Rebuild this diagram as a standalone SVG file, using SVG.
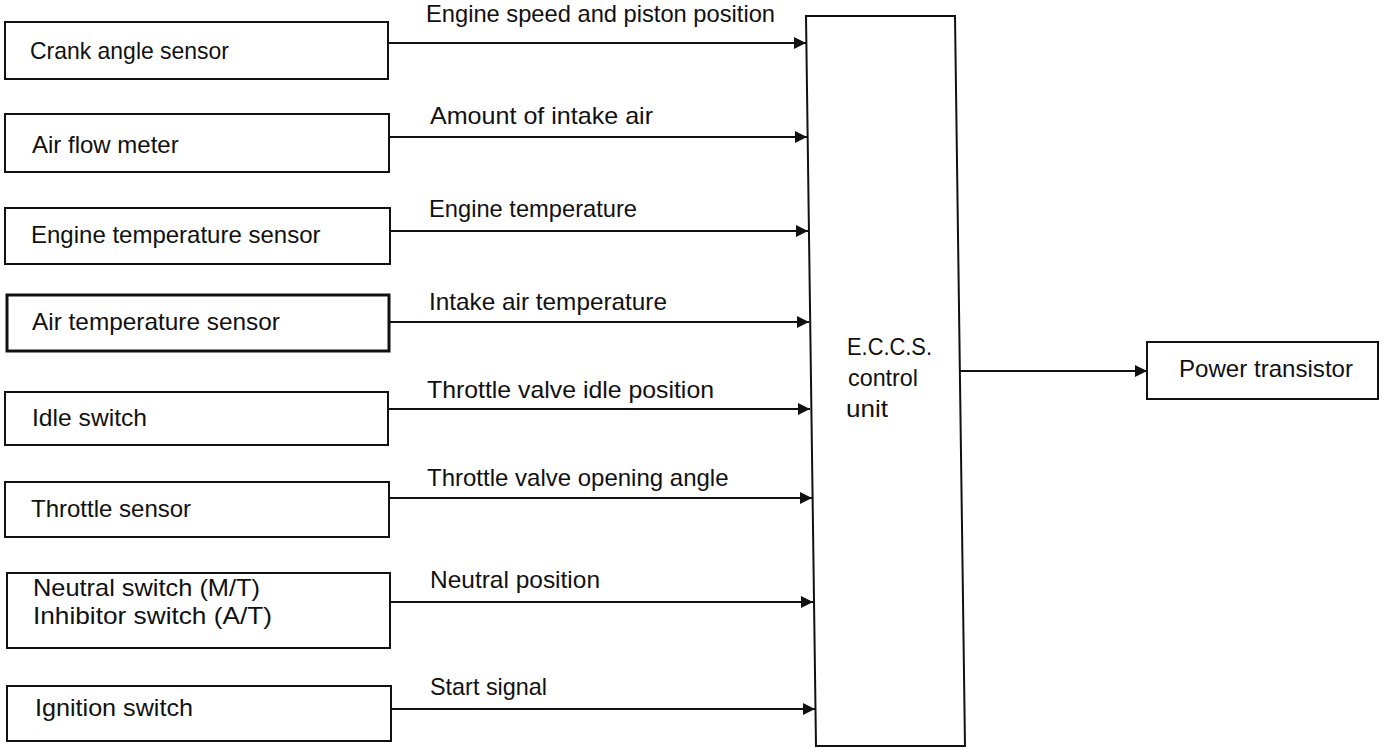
<svg xmlns="http://www.w3.org/2000/svg" width="1387" height="748" viewBox="0 0 1387 748">
  <style>
    .box { fill: #ffffff; stroke: #111111; stroke-width: 2; }
    .box.heavy { stroke-width: 3; }
    .txt { font-family: "Liberation Sans", Arial, sans-serif; font-size: 24px; fill: #111111; }
    .wire { fill: none; stroke: #111111; stroke-width: 2; }
  </style>
  <defs>
    <marker id="arrowhead" markerUnits="userSpaceOnUse" markerWidth="13" markerHeight="12" refX="12" refY="6" orient="auto">
      <path d="M0,0 L12,6 L0,12 Z" fill="#111111"/>
    </marker>
  </defs>
  <rect width="1387" height="748" fill="#ffffff"/>

  <!-- input devices -->
  <g id="crank-angle-sensor">
    <rect class="box" x="5" y="22" width="383" height="57"/>
    <text class="txt" x="30" y="59" textLength="199" lengthAdjust="spacingAndGlyphs">Crank angle sensor</text>
  </g>
  <g id="air-flow-meter">
    <rect class="box" x="5" y="114" width="384" height="58"/>
    <text class="txt" x="32" y="153">Air flow meter</text>
  </g>
  <g id="engine-temperature-sensor">
    <rect class="box" x="5" y="208" width="385" height="56"/>
    <text class="txt" x="31" y="243">Engine temperature sensor</text>
  </g>
  <g id="air-temperature-sensor">
    <rect class="box heavy" x="7" y="295" width="382" height="56"/>
    <text class="txt" x="32" y="330" textLength="248" lengthAdjust="spacingAndGlyphs">Air temperature sensor</text>
  </g>
  <g id="idle-switch">
    <rect class="box" x="5" y="392" width="383" height="53"/>
    <text class="txt" x="32" y="426" textLength="115" lengthAdjust="spacingAndGlyphs">Idle switch</text>
  </g>
  <g id="throttle-sensor">
    <rect class="box" x="5" y="482" width="384" height="55"/>
    <text class="txt" x="31" y="517">Throttle sensor</text>
  </g>
  <g id="neutral-inhibitor-switch">
    <rect class="box" x="7" y="573" width="383" height="75"/>
    <text class="txt" x="33" y="596" textLength="227" lengthAdjust="spacingAndGlyphs">Neutral switch (M/T)</text>
    <text class="txt" x="33" y="624" textLength="239" lengthAdjust="spacingAndGlyphs">Inhibitor switch (A/T)</text>
  </g>
  <g id="ignition-switch">
    <rect class="box" x="7" y="686" width="384" height="55"/>
    <text class="txt" x="35" y="716" textLength="158" lengthAdjust="spacingAndGlyphs">Ignition switch</text>
  </g>

  <!-- control unit (edges lean slightly to the right) -->
  <g id="eccs-control-unit">
    <polygon class="box" points="806,16 955,16 965,746 816,746"/>
    <text class="txt" x="847" y="355" textLength="85" lengthAdjust="spacingAndGlyphs">E.C.C.S.</text>
    <text class="txt" x="848" y="386" textLength="70" lengthAdjust="spacingAndGlyphs">control</text>
    <text class="txt" x="846" y="417" textLength="42" lengthAdjust="spacingAndGlyphs">unit</text>
  </g>

  <!-- output -->
  <g id="power-transistor">
    <rect class="box" x="1147" y="342" width="231" height="57"/>
    <text class="txt" x="1179" y="377" textLength="174" lengthAdjust="spacingAndGlyphs">Power transistor</text>
  </g>

  <!-- signal lines -->
  <g id="connectors">
    <line class="wire" x1="388" y1="43" x2="806" y2="43" marker-end="url(#arrowhead)"/>
    <line class="wire" x1="389" y1="137" x2="807" y2="137" marker-end="url(#arrowhead)"/>
    <line class="wire" x1="390" y1="231" x2="808" y2="231" marker-end="url(#arrowhead)"/>
    <line class="wire" x1="389" y1="322" x2="809" y2="322" marker-end="url(#arrowhead)"/>
    <line class="wire" x1="388" y1="409" x2="810" y2="409" marker-end="url(#arrowhead)"/>
    <line class="wire" x1="389" y1="498" x2="812" y2="498" marker-end="url(#arrowhead)"/>
    <line class="wire" x1="390" y1="602" x2="813" y2="602" marker-end="url(#arrowhead)"/>
    <line class="wire" x1="391" y1="709" x2="815" y2="709" marker-end="url(#arrowhead)"/>
    <line class="wire" x1="960" y1="371" x2="1147" y2="371" marker-end="url(#arrowhead)"/>

    <text class="txt" x="426" y="22" textLength="349" lengthAdjust="spacingAndGlyphs">Engine speed and piston position</text>
    <text class="txt" x="430" y="124" textLength="223" lengthAdjust="spacingAndGlyphs">Amount of intake air</text>
    <text class="txt" x="429" y="217" textLength="208" lengthAdjust="spacingAndGlyphs">Engine temperature</text>
    <text class="txt" x="429" y="310" textLength="238" lengthAdjust="spacingAndGlyphs">Intake air temperature</text>
    <text class="txt" x="427" y="398" textLength="287" lengthAdjust="spacingAndGlyphs">Throttle valve idle position</text>
    <text class="txt" x="427" y="486">Throttle valve opening angle</text>
    <text class="txt" x="430" y="588" textLength="170" lengthAdjust="spacingAndGlyphs">Neutral position</text>
    <text class="txt" x="430" y="695" textLength="117" lengthAdjust="spacingAndGlyphs">Start signal</text>
  </g>
</svg>
